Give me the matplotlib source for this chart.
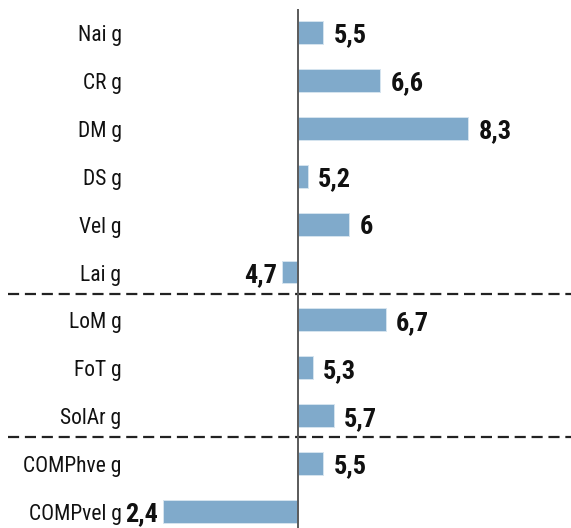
import matplotlib
matplotlib.use("Agg")
import matplotlib.pyplot as plt
from matplotlib import font_manager as fm
import matplotlib.transforms as mtransforms

# ---------------- data ----------------
categories = ["Nai g", "CR g", "DM g", "DS g", "Vel g", "Lai g",
              "LoM g", "FoT g", "SolAr g", "COMPhve g", "COMPvel g"]
values = [5.5, 6.6, 8.3, 5.2, 6.0, 4.7, 6.7, 5.3, 5.7, 5.5, 2.4]
value_labels = ["5,5", "6,6", "8,3", "5,2", "6", "4,7", "6,7", "5,3", "5,7", "5,5", "2,4"]
baseline = 5.0
group_breaks = [5.45, 8.45]   # separators between groups (in row units)

# ---------------- fonts ----------------
fonts = {}
for f in fm.fontManager.ttflist:
    fonts.setdefault(f.name, set()).add(f.weight if isinstance(f.weight, int) else 400)
prefs = ['Liberation Sans Narrow', 'Arial Narrow', 'Roboto Condensed', 'PT Sans Narrow',
         'Archivo Narrow', 'Open Sans Condensed', 'Encode Sans Condensed', 'Liberation Sans']
FONT = next(p for p in prefs if p in fonts)
FONT_B = next((p for p in prefs if p in fonts and any(w >= 700 for w in fonts[p])), FONT)

# ---------------- figure ----------------
W, H = 571, 528
fig = plt.figure(figsize=(W / 100, H / 100), dpi=100)
ax = fig.add_axes([0, 0, 1, 1])
x0, sx = 297.5, 51.8
y0, sy = 32.5, 47.9
ax.set_xlim(baseline - x0 / sx, baseline + (W - x0) / sx)
ax.set_ylim((H - y0) / sy, -y0 / sy)
ax.axis('off')

ypos = list(range(len(categories)))
widths = [v - baseline for v in values]
ax.barh(ypos, widths, left=baseline, height=0.48, color='#80AACB',
        edgecolor='#D5E4EF', linewidth=0.7, zorder=2)

ax.plot([baseline, baseline], [-(y0 - 9) / sy, len(categories)], color='#5A5A5A',
        lw=1.4, zorder=3, solid_capstyle='butt')

for s in group_breaks:
    ax.axhline(s, xmin=8 / W, xmax=1, color='#222222', lw=1.6, ls=(0, (5, 2.6)), zorder=1)

tr = mtransforms.blended_transform_factory(ax.transAxes, ax.transData)
for y, c in zip(ypos, categories):
    ax.text(121.5 / W, y + 8.5 / sy, c, transform=tr, ha='right', va='baseline',
            fontsize=15.5, family=FONT, color='#111111')

for y, v, lab in zip(ypos, values, value_labels):
    if v >= baseline:
        off = mtransforms.offset_copy(ax.transData, fig=fig, x=10, y=0, units='dots')
        ha = 'left'
    else:
        off = mtransforms.offset_copy(ax.transData, fig=fig, x=-5, y=0, units='dots')
        ha = 'right'
    ax.text(v, y + 10 / sy, lab, transform=off, ha=ha, va='baseline', fontsize=19,
            fontweight='bold', family=FONT_B, color='#111111')

fig.savefig("out.png", dpi=100)
